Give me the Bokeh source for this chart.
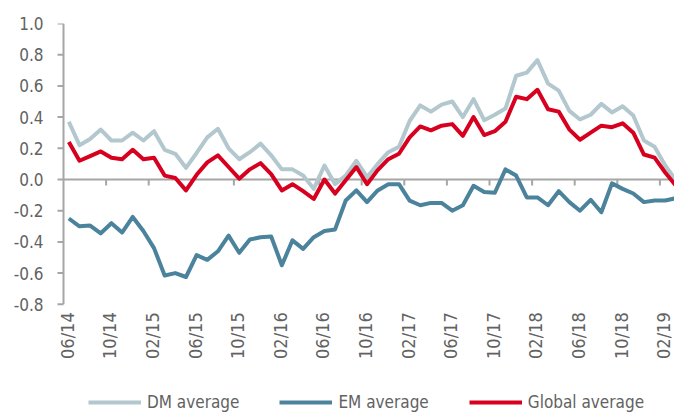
import math
import pandas as pd
from bokeh.plotting import figure
from bokeh.models import (Range1d, FixedTicker, PrintfTickFormatter,
                          Legend, LegendItem, ColumnDataSource)
from bokeh.core.properties import value
from bokeh.embed import file_html
from bokeh.resources import INLINE

# ---- data -------------------------------------------------------------
months = [d.strftime("%m/%y") for d in pd.date_range("2014-06-01", periods=58, freq="MS")]

dm_average = [0.37, 0.22, 0.26, 0.32, 0.25, 0.25, 0.30, 0.25, 0.31, 0.19,
              0.165, 0.075, 0.17, 0.27, 0.325, 0.20, 0.13, 0.175, 0.23, 0.155,
              0.065, 0.065, 0.025, -0.06, 0.09, -0.03, 0.025, 0.12, 0.015, 0.10,
              0.175, 0.21, 0.375, 0.475, 0.435, 0.48, 0.50, 0.40, 0.515, 0.38,
              0.415, 0.455, 0.665, 0.685, 0.765, 0.615, 0.57, 0.44, 0.385, 0.415,
              0.485, 0.43, 0.47, 0.41, 0.25, 0.21, 0.09, -0.005]

em_average = [-0.25, -0.30, -0.295, -0.345, -0.28, -0.34, -0.24, -0.33, -0.44, -0.615,
              -0.60, -0.625, -0.485, -0.515, -0.46, -0.36, -0.47, -0.385, -0.37, -0.365,
              -0.55, -0.39, -0.445, -0.37, -0.33, -0.32, -0.135, -0.07, -0.145, -0.07,
              -0.03, -0.03, -0.135, -0.165, -0.15, -0.15, -0.20, -0.165, -0.04, -0.08,
              -0.085, 0.065, 0.025, -0.115, -0.115, -0.165, -0.075, -0.145, -0.20, -0.13,
              -0.21, -0.025, -0.06, -0.09, -0.145, -0.135, -0.135, -0.12]

global_average = [0.24, 0.12, 0.15, 0.18, 0.14, 0.13, 0.19, 0.13, 0.14, 0.025,
                  0.01, -0.07, 0.03, 0.11, 0.155, 0.08, 0.005, 0.065, 0.105, 0.035,
                  -0.07, -0.03, -0.075, -0.125, 0.0, -0.09, -0.005, 0.08, -0.03, 0.06,
                  0.13, 0.165, 0.27, 0.34, 0.315, 0.345, 0.355, 0.28, 0.40, 0.285,
                  0.31, 0.37, 0.53, 0.515, 0.575, 0.45, 0.435, 0.32, 0.255, 0.30,
                  0.345, 0.335, 0.36, 0.30, 0.16, 0.14, 0.045, -0.04]

y_ticks = [-0.8, -0.6, -0.4, -0.2, 0.0, 0.2, 0.4, 0.6, 0.8, 1.0]
label_step = 4

# ---- styling ----------------------------------------------------------
FONT = "DejaVu Sans Condensed"
TXT = "#626262"
AX = "#a6a6a6"
C_DM = "#b3c7ce"
C_EM = "#4a839b"
C_GL = "#d7001e"

W, H = 674, 412
axis_px, frame_left, top = 63, 54, 23
label_right = 43
tick_len = 6
px_per_month = 10.65
px_per_unit = 156.0
y_lo, y_hi = y_ticks[0], y_ticks[-1]
x_axis_pos = -0.5                      # left edge of the first month slot
x_start = x_axis_pos - (axis_px - frame_left) / px_per_month
x_end = x_start + (W - frame_left) / px_per_month
y_start = y_hi - (H - top) / px_per_unit

x = list(range(len(months)))
src = ColumnDataSource(dict(x=x, dm=dm_average, em=em_average, gl=global_average))

p = figure(width=W, height=H, output_backend="svg", toolbar_location=None,
           x_range=Range1d(x_start, x_end), y_range=Range1d(y_start, y_hi),
           x_axis_location=None,
           min_border_left=frame_left, min_border_right=0, min_border_top=top,
           min_border_bottom=0)
p.outline_line_color = None
p.grid.visible = False
p.background_fill_color = "white"

# value-axis line and its ticks (drawn at the left edge of the first month slot)
p.segment(x0=[x_axis_pos], x1=[x_axis_pos], y0=[y_lo], y1=[y_hi],
          line_color=AX, line_width=2)
p.segment(x0=[x_axis_pos - tick_len / px_per_month] * len(y_ticks),
          x1=[x_axis_pos] * len(y_ticks), y0=y_ticks, y1=y_ticks,
          line_color=AX, line_width=2)

# zero line with category-boundary ticks
p.segment(x0=[x_axis_pos], x1=[x_end], y0=[0], y1=[0], line_color=AX, line_width=2)
tick_x = [k - 0.5 for k in range(label_step, len(months), label_step)]
p.segment(x0=tick_x, x1=tick_x, y0=[0] * len(tick_x),
          y1=[-tick_len / px_per_unit] * len(tick_x), line_color=AX, line_width=2)

r_dm = p.line("x", "dm", source=src, line_color=C_DM, line_width=4, line_join="round")
r_em = p.line("x", "em", source=src, line_color=C_EM, line_width=4, line_join="round")
r_gl = p.line("x", "gl", source=src, line_color=C_GL, line_width=4, line_join="round")

# y axis: labels only (line and ticks drawn above)
ya = p.yaxis[0]
ya.bounds = (y_lo, y_hi)
ya.ticker = FixedTicker(ticks=y_ticks)
ya.formatter = PrintfTickFormatter(format="%.1f")
ya.axis_line_color = None
ya.major_tick_line_color = None
ya.minor_tick_line_color = None
ya.major_tick_out = 0
ya.major_tick_in = 0
ya.minor_tick_out = 0
ya.major_label_standoff = frame_left - label_right
ya.major_label_text_font = FONT
ya.major_label_text_font_size = "17px"
ya.major_label_text_color = TXT

# x tick labels (month labels, vertical) below the bottom of the value axis
lab_ticks = list(range(0, len(months), label_step))
lab_src = ColumnDataSource(dict(x=lab_ticks, y=[y_lo] * len(lab_ticks),
                                t=[months[i] for i in lab_ticks]))
p.text(x="x", y="y", text="t", source=lab_src, angle=math.pi / 2,
       text_align="right", text_baseline="middle", y_offset=8, x_offset=-1.5,
       text_font=value(FONT), text_font_size="18px", text_color=TXT)

legend = Legend(items=[LegendItem(label="DM average", renderers=[r_dm]),
                       LegendItem(label="EM average", renderers=[r_em]),
                       LegendItem(label="Global average", renderers=[r_gl])],
                orientation="horizontal", location=(88 - frame_left, 0),
                glyph_width=53, glyph_height=20, label_height=20,
                label_standoff=6, spacing=40,
                padding=0, margin=0, border_line_color=None,
                background_fill_alpha=0,
                label_text_font=FONT, label_text_font_size="17px",
                label_text_color=TXT)
p.add_layout(legend)

open("out.html", "w").write(file_html(p, INLINE))
